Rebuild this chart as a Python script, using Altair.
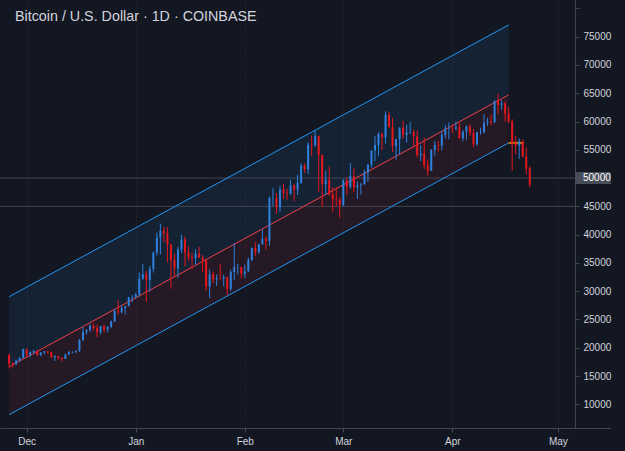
import altair as alt
import pandas as pd

# ---- daily BTC/USD candles (Coinbase), 2020-11-26 .. 2021-04-23 ----
first_day = "2020-11-26"

opens = [
    # Nov 26-30
    18730, 17150, 17140, 17720, 18180,
    # Dec
    19700, 18790, 19220, 19450, 18700, 19160, 19380, 19180, 18320, 18550, 18250, 18040, 18800, 19170, 19270, 19440,
    21350, 22800, 23140, 23870, 23480, 22740, 23820, 23240, 23730, 24710, 26490, 26280, 27040, 27360, 28880,
    # Jan
    28990, 29410, 32200, 33000, 31990, 33950, 36830, 39490, 40670, 40240, 38240, 35570, 34040, 37390, 39160, 36820,
    36050, 35820, 36630, 35910, 35470, 30850, 33000, 32090, 32270, 32260, 32500, 30410, 33400, 34260, 34300,
    # Feb
    33100, 33500, 35500, 37650, 36950, 38300, 39250, 38870, 46450, 46500, 44850, 47970, 47390, 47240, 48720, 47940,
    49160, 52150, 51600, 55900, 55800, 57400, 54100, 48900, 49700, 47060, 46300, 46200,
    # Mar
    45240, 49600, 48440, 50350, 48370, 48760, 48880, 50970, 52390, 54880, 55850, 57800, 57230, 61180, 59000, 55630,
    56900, 58930, 57660, 58080, 58110, 57380, 54100, 54350, 52300, 51300, 55030, 55850, 55780, 57630, 58730,
    # Apr 1-23
    58800, 58730, 58980, 57060, 58200, 59130, 57990, 56000, 58080, 58100, 59770, 59980, 59840, 63580, 62970, 63220,
    61400, 60040, 56200, 55720, 56470, 53800, 51700,
]
highs = [
    18930, 17460, 17900, 18350, 19860,
    19920, 19340, 19570, 19520, 19180, 19420, 19420, 19300, 18640, 18570, 18290, 18950, 19420, 19350, 19550, 21560,
    23770, 23280, 24170, 24290, 24100, 23850, 24100, 23790, 24790, 26870, 28420, 27500, 27400, 28990, 29300,
    29680, 33300, 34800, 33600, 34500, 36940, 40370, 41950, 41380, 41350, 38270, 36630, 37850, 40000, 39700, 37950,
    36850, 37400, 37850, 36400, 35600, 33830, 33450, 32950, 34880, 32920, 32560, 33800, 38530, 34880, 34300,
    34700, 35950, 37700, 38700, 38300, 40950, 39700, 46750, 48200, 47350, 48650, 48950, 48170, 49720, 49000, 50630,
    52600, 52550, 56300, 57500, 58350, 57500, 54180, 51350, 52050, 48400, 48400, 46620,
    49800, 50200, 52650, 51800, 49450, 49200, 51450, 52400, 54900, 57400, 58150, 58000, 61800, 61700, 60600, 56950,
    58980, 60100, 59450, 59900, 58600, 58420, 55830, 57200, 53250, 55100, 56600, 56570, 58400, 59370, 59800,
    59500, 60000, 59800, 58500, 59280, 59500, 58650, 58160, 58900, 61300, 60700, 61200, 63800, 64900, 63800, 63530,
    62570, 60400, 57500, 57000, 56800, 55400, 52100,
]
lows = [
    16330, 16530, 16880, 17570, 18180,
    18330, 18330, 18930, 18590, 18510, 18860, 18910, 18200, 17650, 17910, 17570, 18020, 18720, 19000, 19050, 19300,
    21230, 22350, 22800, 23080, 21900, 22360, 22630, 22700, 23450, 24500, 25850, 26100, 25880, 27350, 28000,
    28700, 29000, 32000, 28130, 29900, 33300, 36300, 36500, 38720, 35110, 30420, 32530, 32380, 36700, 34400, 35400,
    33850, 34720, 35900, 33400, 30070, 28800, 31400, 30900, 31950, 30840, 29240, 30000, 31950, 32970, 32300,
    32300, 33450, 35370, 36200, 36600, 38200, 37350, 37980, 45000, 43700, 43980, 46300, 46200, 47050, 45900, 47000,
    48950, 50900, 50750, 53900, 55500, 47600, 44900, 47050, 46900, 44100, 45000, 43000,
    45000, 47050, 48150, 47500, 46300, 47070, 48880, 49300, 51850, 53020, 53950, 54950, 56100, 58950, 54600, 53250,
    54100, 57000, 56300, 57800, 55500, 53650, 53000, 51600, 50400, 51300, 53950, 54700, 54900, 57000, 56850,
    58000, 58450, 56900, 56500, 56800, 57500, 55450, 55700, 57700, 57900, 59200, 59300, 59800, 61300, 62050, 60000,
    59700, 51300, 54200, 53400, 53650, 50600, 48400,
]
closes = [
    17150, 17140, 17720, 18180, 19700,
    18790, 19220, 19450, 18700, 19160, 19380, 19180, 18320, 18550, 18250, 18040, 18800, 19170, 19270, 19440, 21350,
    22800, 23140, 23870, 23480, 22740, 23820, 23240, 23730, 24710, 26490, 26280, 27040, 27360, 28880, 28990,
    29410, 32200, 33000, 31990, 33950, 36830, 39490, 40670, 40240, 38240, 35570, 34040, 37390, 39160, 36820, 36050,
    35820, 36630, 35910, 35470, 30850, 33000, 32090, 32270, 32260, 32500, 30410, 33400, 34260, 34300, 33100,
    33500, 35500, 37650, 36950, 38300, 39250, 38870, 46450, 46500, 44850, 47970, 47390, 47240, 48720, 47940, 49160,
    52150, 51600, 55900, 55800, 57400, 54100, 48900, 49700, 47060, 46300, 46200, 45240,
    49600, 48440, 50350, 48370, 48760, 48880, 50970, 52390, 54880, 55850, 57800, 57230, 61180, 59000, 55630, 56900,
    58930, 57660, 58080, 58110, 57380, 54100, 54350, 52300, 51300, 55030, 55850, 55780, 57630, 58730, 58800,
    58730, 58980, 57060, 58200, 59130, 57990, 56000, 58080, 58100, 59770, 59980, 59840, 63580, 62970, 63220, 61400,
    60040, 56200, 55720, 56470, 53800, 51700, 48800,
]

# ---- linear regression channel ----
channel_dates = ["2020-11-26", "2021-04-17"]
channel_center = [16650, 64700]
upper_offset = 12380
lower_offset = 8480

# ---- horizontal price levels and annotations ----
price_levels = [45000, 50000]
marker_level = 50000
marker_text = "50000"
orange_start = "2021-04-17"
orange_end = "2021-04-21T08:40:00Z"
orange_level = 56220

# ---- axes ----
price_ticks = [10000, 15000, 20000, 25000, 30000, 35000, 40000, 45000,
               50000, 55000, 60000, 65000, 70000, 75000, 80000]
unlabeled_ticks = [50000, 80000]
month_ticks = [(2020, 12), (2021, 1), (2021, 2), (2021, 3), (2021, 4), (2021, 5)]
title_text = "Bitcoin / U.S. Dollar · 1D · COINBASE"

# ---- colours ----
BG = "#131722"
UP = "#2f7fdc"
DOWN = "#e3171f"
CH_BLUE = "#2196f3"
CH_RED = "#f0424c"
AXIS_LINE = "#434651"
TEXT = "#d1d4dc"
FONT = "Liberation Sans"

# tables
dates = list(pd.date_range(first_day, periods=len(opens), freq="D").strftime("%Y-%m-%d"))
candles = pd.DataFrame({"date": dates, "open": opens, "high": highs, "low": lows, "close": closes})
candles["dir"] = ["up" if c >= o else "down" for o, c in zip(opens, closes)]

channel = pd.DataFrame({
    "date": channel_dates,
    "center": channel_center,
    "upper": [v + upper_offset for v in channel_center],
    "lower": [v - lower_offset for v in channel_center],
})
levels = pd.DataFrame({"level": price_levels})
orange = pd.DataFrame({"start": [orange_start], "end": [orange_end], "level": [orange_level]})
marker = pd.DataFrame({"level": [marker_level], "label": [marker_text]})
title_df = pd.DataFrame({"t": [title_text]})
one_row = pd.DataFrame({"k": [0]})

# scales (no extra range padding, so the time axis fills the plot exactly)
x_scale = alt.Scale(
    type="utc", nice=False, padding=0,
    domain=[alt.DateTime(year=2020, month=11, date=23, hours=9, minutes=50, utc=True),
            alt.DateTime(year=2021, month=5, date=5, hours=20, minutes=40, utc=True)],
)
y_scale = alt.Scale(domain=[5810, 81490], nice=False, zero=False, padding=0)

hide_expr = " || ".join(f"datum.value == {v}" for v in unlabeled_ticks)
y_axis = alt.Axis(
    orient="right", values=price_ticks, format="d",
    labelExpr=f"({hide_expr}) ? '' : datum.label",
    tickSize=4, labelPadding=4, grid=False, title=None,
    domainColor=AXIS_LINE, tickColor=AXIS_LINE, labelColor=TEXT,
    labelFont=FONT, labelFontSize=10,
)
x_axis = alt.Axis(
    values=[alt.DateTime(year=y, month=m, date=1, utc=True) for y, m in month_ticks],
    labelExpr="utcFormat(datum.value, '%b')",
    grid=True, gridColor="#2a2e39", gridDash=[1, 2], gridOpacity=0.8,
    tickSize=4, labelPadding=4, title=None,
    domainColor=AXIS_LINE, tickColor=AXIS_LINE, labelColor=TEXT,
    labelFont=FONT, labelFontSize=10, labelFlush=False, labelOverlap=False,
)


def X(field):
    return alt.X(field, scale=x_scale, axis=x_axis)


def Y(field):
    return alt.Y(field, scale=y_scale, axis=y_axis)


color = alt.Color("dir:N", scale=alt.Scale(domain=["up", "down"], range=[UP, DOWN]), legend=None)

upper_fill = alt.Chart(channel).mark_area(color=CH_BLUE, opacity=0.09).encode(
    x=X("date:T"), y=Y("center:Q"), y2="upper:Q")
lower_fill = alt.Chart(channel).mark_area(color="#f23645", opacity=0.08).encode(
    x=X("date:T"), y=Y("lower:Q"), y2="center:Q")

level_lines = alt.Chart(levels).mark_rule(color="#434651", strokeWidth=1).encode(y=Y("level:Q"))

upper_line = alt.Chart(channel).mark_line(color=CH_BLUE, strokeWidth=1).encode(x=X("date:T"), y=Y("upper:Q"))
lower_line = alt.Chart(channel).mark_line(color=CH_BLUE, strokeWidth=1).encode(x=X("date:T"), y=Y("lower:Q"))
center_line = alt.Chart(channel).mark_line(color=CH_RED, strokeWidth=1).encode(x=X("date:T"), y=Y("center:Q"))

orange_line = alt.Chart(orange).mark_rule(color="#ff9800", strokeWidth=1.5).encode(
    x=X("start:T"), x2="end:T", y=Y("level:Q"))

wicks = alt.Chart(candles).mark_rule(strokeWidth=1).encode(
    x=X("date:T"), y=Y("low:Q"), y2="high:Q", color=color)
bodies = alt.Chart(candles).mark_bar(size=2).encode(
    x=X("date:T"), y=Y("open:Q"), y2="close:Q", color=color)

# price tag on the right-hand scale
tag_box = alt.Chart(marker).mark_point(
    shape="M-3,-1H3V1H-3Z", filled=True, size=144, color="#474d59", opacity=1, strokeWidth=0
).encode(x=alt.value(593), y=Y("level:Q"))
tag_text = alt.Chart(marker).mark_text(
    align="left", baseline="middle", font=FONT, fontSize=10, color="#ffffff"
).encode(x=alt.value(583), y=Y("level:Q"), text="label:N")

# time axis line continues under the price scale
axis_tail = alt.Chart(one_row).mark_rule(color=AXIS_LINE, strokeWidth=1).encode(
    x=alt.value(575), x2=alt.value(611), y=alt.value(428.5))

title = alt.Chart(title_df).mark_text(
    align="left", baseline="alphabetic", font=FONT, fontSize=14.3, color=TEXT
).encode(x=alt.value(15), y=alt.value(21), text="t:N")

chart = alt.layer(
    upper_fill, lower_fill, level_lines, upper_line, lower_line, center_line,
    orange_line, wicks, bodies, tag_box, tag_text, axis_tail, title,
).properties(
    width=575, height=428, background=BG,
    padding={"left": 0, "top": 0, "right": 50, "bottom": 23},
    autosize=alt.AutoSizeParams(type="none"),
).configure_view(stroke=None)

chart.save("out.html", embed_options={"renderer": "svg", "actions": False})
